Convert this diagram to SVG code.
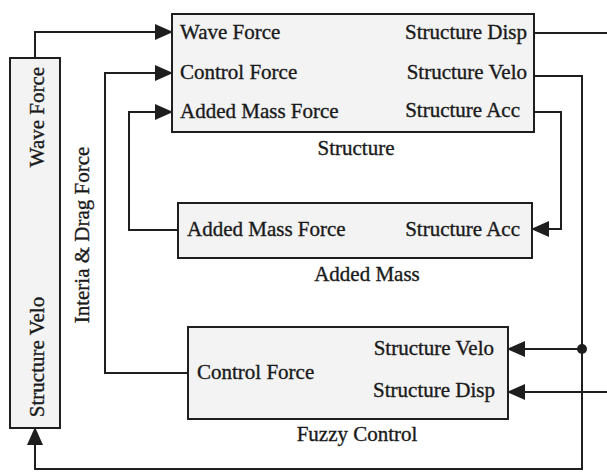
<svg xmlns="http://www.w3.org/2000/svg" width="607" height="472" viewBox="0 0 607 472">
<style>
.box{fill:#f3f3f3;stroke:#1e1e1e;stroke-width:2}
.t{font-family:"Liberation Serif","Times New Roman",serif;font-size:21px;fill:#1a1a1a;stroke:#1a1a1a;stroke-width:0.35}
.e{text-anchor:end}
.m{text-anchor:middle}
.c{fill:none;stroke:#1e1e1e;stroke-width:2}
</style>
<defs>
<marker id="ah" markerUnits="userSpaceOnUse" markerWidth="18" markerHeight="16" refX="17" refY="8" orient="auto">
<path d="M0,0 L18,8 L0,16 Z" fill="#1e1e1e"/>
</marker>
</defs>
<rect width="607" height="472" fill="#ffffff"/>
<g id="connectors">
<path class="c" d="M35,58 V32 H172" marker-end="url(#ah)"/>
<path class="c" d="M188,373 H105 V73 H172" marker-end="url(#ah)"/>
<path class="c" d="M178,230 H129 V112 H172" marker-end="url(#ah)"/>
<path class="c" d="M534,112 H561 V229 H532" marker-end="url(#ah)"/>
<path class="c" d="M534,76 H582 V469 H35 V428" marker-end="url(#ah)"/>
<path class="c" d="M582,349 H508" marker-end="url(#ah)"/>
<circle cx="582" cy="349" r="5" fill="#1e1e1e"/>
<path class="c" d="M534,33 H610 V392 H508" marker-end="url(#ah)"/>
</g>
<g id="structure">
<rect class="box" x="172" y="14" width="362" height="118"/>
<text class="t" x="180" y="39">Wave Force</text>
<text class="t" x="180" y="79">Control Force</text>
<text class="t" x="180" y="118">Added Mass Force</text>
<text class="t e" x="527" y="39">Structure Disp</text>
<text class="t e" x="527" y="79">Structure Velo</text>
<text class="t e" x="520" y="117">Structure Acc</text>
<text class="t m" x="356" y="155">Structure</text>
</g>
<g id="added-mass">
<rect class="box" x="178" y="203" width="354" height="55"/>
<text class="t" x="187" y="236">Added Mass Force</text>
<text class="t e" x="520" y="236">Structure Acc</text>
<text class="t m" x="367" y="281">Added Mass</text>
</g>
<g id="fuzzy-control">
<rect class="box" x="188" y="327" width="320" height="92"/>
<text class="t" x="197" y="379">Control Force</text>
<text class="t e" x="494" y="355">Structure Velo</text>
<text class="t e" x="495" y="397">Structure Disp</text>
<text class="t m" x="357" y="441">Fuzzy Control</text>
</g>
<g id="wave-block">
<rect class="box" x="10" y="58" width="50" height="370"/>
<text class="t m" transform="translate(44,117) rotate(-90)">Wave Force</text>
<text class="t m" transform="translate(44,357) rotate(-90)">Structure Velo</text>
<text class="t m" transform="translate(89,235) rotate(-90)">Interia &amp; Drag Force</text>
</g>
</svg>
